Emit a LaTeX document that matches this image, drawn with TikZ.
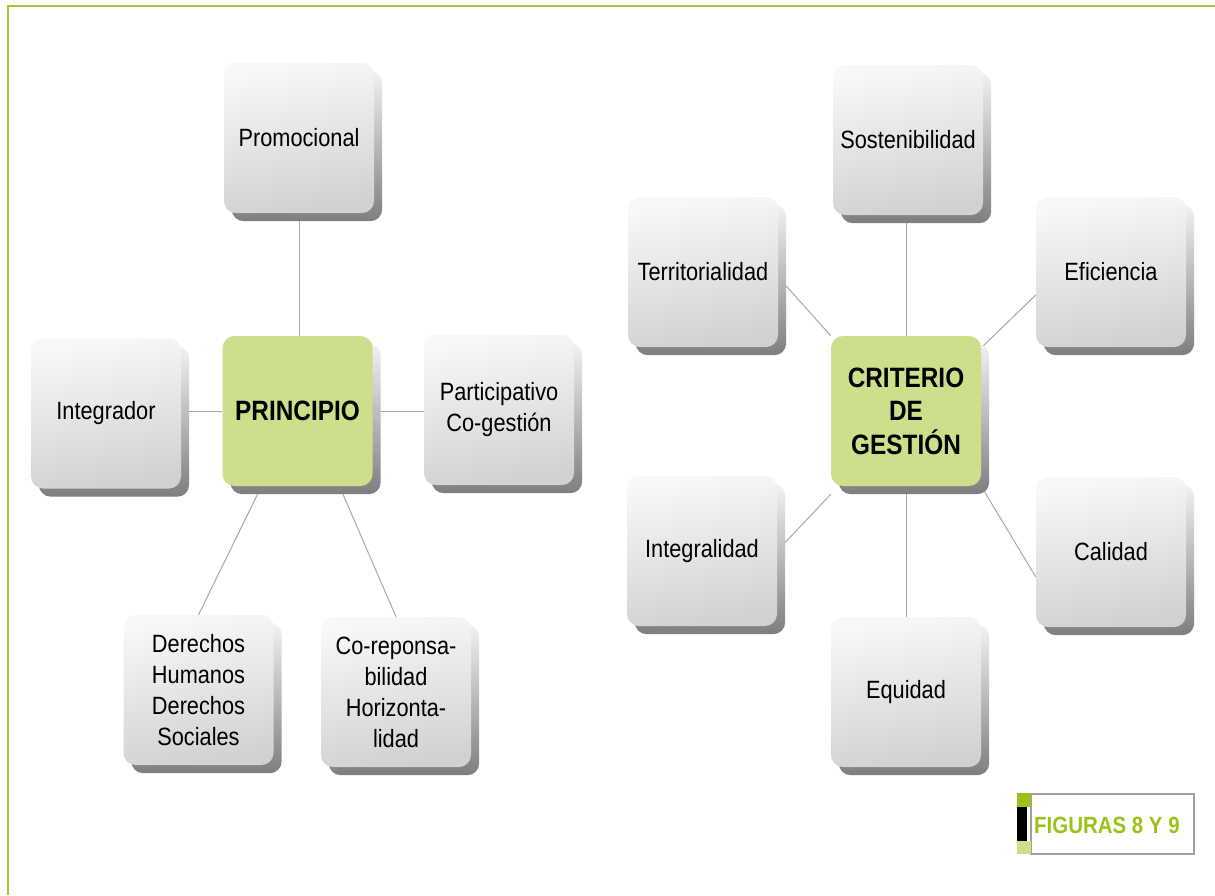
\documentclass[tikz,border=0pt]{standalone}
\usepackage{fontspec}
\setmainfont{Liberation Sans}[FakeStretch=0.87]
\usetikzlibrary{backgrounds}
\definecolor{facetop}{HTML}{F8F8F8}
\definecolor{facebot}{HTML}{D0D1D3}
\definecolor{boxgreen}{HTML}{CDDF8A}
\definecolor{linegray}{HTML}{A8A8A8}
\definecolor{framegreen}{HTML}{A4C639}
\definecolor{labgreen}{HTML}{9DC118}
\definecolor{labgreenlight}{HTML}{CFE08A}
\definecolor{labborder}{HTML}{A0A0A0}
\definecolor{shadtop}{HTML}{F2F2F2}
\definecolor{shadbot}{HTML}{7E7E80}
\tikzset{
  face/.style={rectangle, rounded corners=12pt, minimum width=150pt, minimum height=150pt,
    inner sep=0pt, align=center, text=black},
  graybox/.style={face, top color=facetop, bottom color=facebot, shading angle=10,
    font=\fontsize{25}{31}\selectfont},
  greenbox/.style={face, fill=boxgreen, font=\fontsize{28}{33.5}\selectfont\bfseries},
  shadowbox/.style={rounded corners=12pt, top color=shadtop, bottom color=shadbot},
  link/.style={draw=linegray, line width=1pt}
}
\begin{document}
\begin{tikzpicture}[x=1pt,y=-1pt]
\useasboundingbox (0,0) rectangle (1215,895);

% left diagram
\node[graybox] (prom) at (299,138) {Promocional};
\node[greenbox] (prin) at (297.5,411) {PRINCIPIO};
\node[graybox] (integ) at (106,413.5) {Integrador};
\node[graybox] (part) at (499,410) {Participativo\\Co-gestión};
\node[graybox] (der) at (198.5,690) {Derechos\\Humanos\\Derechos\\Sociales};
\node[graybox] (cor) at (396,692) {Co-reponsa-\\bilidad\\Horizonta-\\lidad};

% right diagram
\node[graybox] (sost) at (908,140) {Sostenibilidad};
\node[graybox] (terr) at (703,272) {Territorialidad};
\node[graybox] (eff) at (1111,272) {Eficiencia};
\node[greenbox] (crit) at (906,411) {CRITERIO\\DE\\GESTIÓN};
\node[graybox] (intg) at (702,551) {Integralidad};
\node[graybox] (cal) at (1111,552) {Calidad};
\node[graybox] (equ) at (906,692) {Equidad};

\begin{scope}[on background layer]
  \fill[white] (0,0) rectangle (1215,895);
  \draw[link] (prom.south) -- (prom.south |- prin.north);
  \draw[link] (prin.west) -- (prin.west -| integ.east);
  \draw[link] (prin.east) -- (prin.east -| part.west);
  \draw[link] ([xshift=-36pt]prin.south) -- (der.north);
  \draw[link] ([xshift=42pt]prin.south) -- (cor.north);
  \draw[link] ([xshift=-2pt]sost.south) -- (crit.north);
  \draw[link] ([yshift=-5pt]terr.east) -- (crit.north west);
  \draw[link] ([yshift=-23pt]eff.west) -- ([yshift=-12pt]crit.north east);
  \draw[link] (intg.east) -- ([yshift=-8pt]crit.south west);
  \draw[link] ([yshift=-25pt]cal.west) -- (crit.south east);
  \draw[link] (crit.south) -- (equ.north);
  \foreach \n in {prom,prin,integ,part,der,cor,sost,terr,eff,crit,intg,cal,equ}
    \shade[shadowbox] ([xshift=8pt,yshift=-8pt]\n.south west) rectangle ([xshift=8pt,yshift=-8pt]\n.north east);
\end{scope}

\draw[framegreen, line width=2.5pt] (1215,6) -- (8,6) -- (8,895);

% figure label
\draw[labborder, line width=1.2pt] (1031,794) rectangle (1194,854);
\fill[labgreen] (1017,793) rectangle (1031,807);
\fill[black] (1017,807) rectangle (1027,841);
\fill[labgreenlight] (1017,841) rectangle (1031,854);
\node[anchor=west, inner sep=0pt, text=labgreen, font=\fontsize{23.5}{26}\selectfont\bfseries] (figlabel) at (1034,825) {FIGURAS 8 Y 9};
\end{tikzpicture}
\end{document}
